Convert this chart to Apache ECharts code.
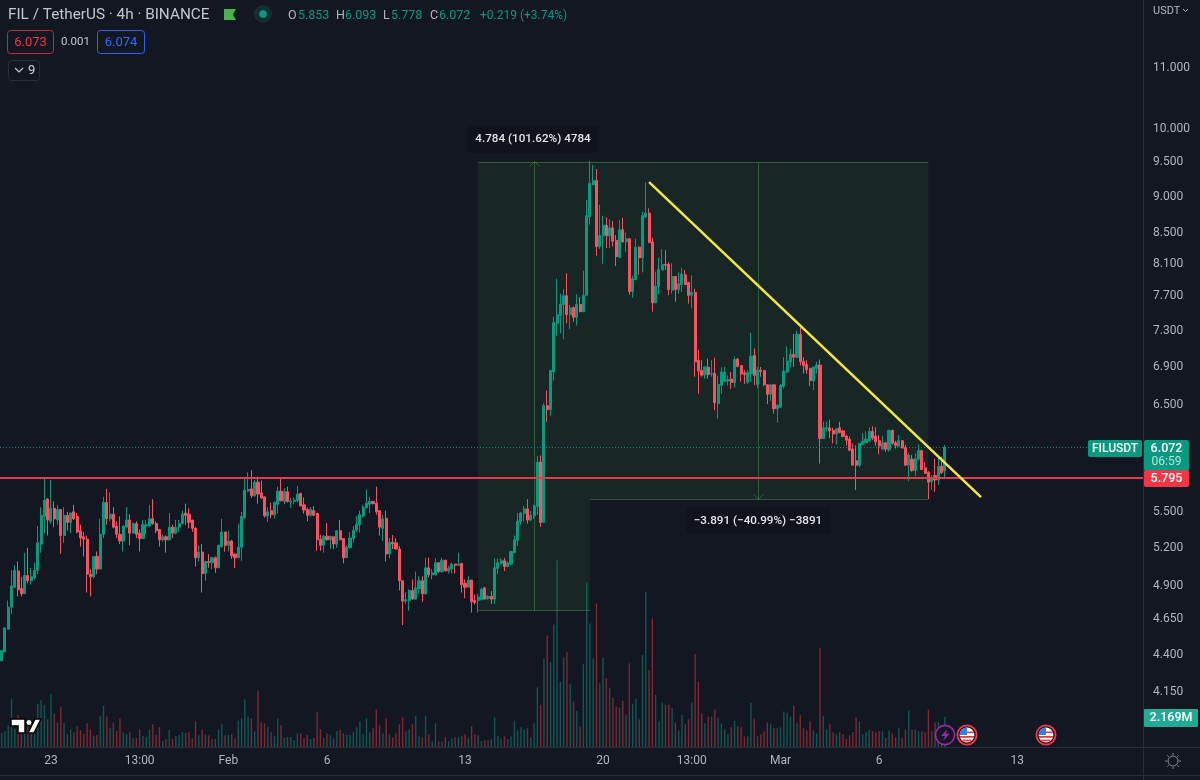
<!DOCTYPE html>
<html><head><meta charset="utf-8"><style>html,body{margin:0;padding:0;background:#131722}#c{width:1200px;height:780px}</style>
<script src="https://cdn.jsdelivr.net/npm/echarts@6/dist/echarts.min.js"></script></head><body><div id="c"></div>
<script>
// candles: [open, close, low, high]
const candlesJan=[
[4.35,4.42,4.35,4.42],[4.41,4.58,4.41,4.58],[4.57,4.73,4.57,4.78],[4.73,4.89,4.68,5.01],[4.88,5.01,4.88,5.05],[5.005,4.86,4.81,5.08],[4.87,4.83,4.81,4.96],[4.83,4.97,4.83,5.15],[4.97,4.93,4.91,5.19],[4.93,4.96,4.90,5.03],
[4.95,5.01,4.94,5.07],[5.01,5.23,4.98,5.37],[5.22,5.46,5.15,5.53],[5.45,5.59,5.31,5.78],[5.60,5.42,5.29,5.61],[5.41,5.52,5.39,5.77],[5.52,5.43,5.36,5.58],[5.42,5.51,5.38,5.55],[5.51,5.29,5.14,5.51],[5.29,5.46,5.23,5.53],
[5.46,5.40,5.33,5.49],[5.40,5.48,5.31,5.48],[5.49,5.43,5.42,5.55],[5.45,5.32,5.31,5.48],[5.33,5.27,5.20,5.38],[5.28,5.26,5.12,5.32],[5.26,4.98,4.84,5.29],[4.98,4.96,4.81,5.02],[4.96,5.12,4.95,5.12],[5.12,5.02,4.98,5.16],
[5.02,5.30,5.02,5.43],[5.30,5.57,5.27,5.62],[5.57,5.43,5.38,5.69],[5.43,5.47,5.41,5.66],[5.47,5.36,5.35,5.53],[5.37,5.30,5.27,5.41],[5.30,5.245,5.22,5.45],[5.245,5.37,5.16,5.37],[5.36,5.42,5.35,5.53],[5.42,5.31,5.21,5.47],
[5.31,5.39,5.31,5.40],[5.39,5.30,5.27,5.41],[5.31,5.265,5.16,5.34],[5.265,5.38,5.265,5.42],[5.37,5.38,5.30,5.42],[5.37,5.43,5.36,5.55],[5.43,5.39,5.38,5.60],[5.39,5.33,5.31,5.41],[5.34,5.255,5.20,5.34],[5.255,5.28,5.24,5.30],
[5.28,5.255,5.15,5.29],[5.255,5.36,5.25,5.48],[5.36,5.31,5.27,5.38],[5.31,5.36,5.30,5.42],[5.36,5.39,5.32,5.42],[5.39,5.47,5.39,5.50],[5.48,5.46,5.38,5.56],[5.47,5.40,5.35,5.52],[5.42,5.35,5.32,5.42],[5.35,5.11,5.04,5.36],
[5.11,5.155,5.08,5.21],[5.155,4.985,4.84,5.22],[4.985,5.08,4.93,5.08],[5.08,5.07,5.03,5.14],[5.07,5.11,5.02,5.115],[5.11,5.03,4.99,5.12],[5.03,5.21,5.03,5.21],[5.20,5.32,5.19,5.43],[5.32,5.21,5.16,5.32],[5.21,5.245,5.16,5.33],
[5.245,5.125,5.10,5.255],[5.14,5.11,5.03,5.14]];
const candlesFebA=[
[5.11,5.195,5.11,5.385],[5.195,5.45,5.085,5.49],[5.44,5.68,5.43,5.785],[5.67,5.685,5.66,5.84],[5.69,5.63,5.61,5.86],[5.63,5.75,5.62,5.77],[5.75,5.645,5.56,5.80],[5.655,5.61,5.60,5.765],[5.62,5.455,5.44,5.62],[5.455,5.49,5.405,5.53],
[5.50,5.465,5.435,5.57],[5.465,5.57,5.43,5.58],[5.555,5.67,5.475,5.71],[5.67,5.585,5.58,5.785],[5.58,5.665,5.555,5.695],[5.665,5.58,5.57,5.71],[5.575,5.585,5.525,5.61],[5.58,5.59,5.555,5.615],[5.585,5.645,5.57,5.715],[5.65,5.54,5.54,5.655],
[5.55,5.505,5.475,5.615],[5.51,5.46,5.41,5.525],[5.46,5.51,5.45,5.53],[5.50,5.46,5.455,5.54],[5.475,5.255,5.165,5.48],[5.26,5.21,5.165,5.295],[5.21,5.285,5.15,5.295],[5.285,5.255,5.25,5.395],[5.255,5.285,5.18,5.285],[5.28,5.22,5.18,5.28],
[5.22,5.33,5.19,5.33],[5.33,5.255,5.25,5.42],[5.265,5.11,5.065,5.27],[5.11,5.195,5.11,5.21],[5.19,5.27,5.19,5.32],[5.265,5.335,5.23,5.37],[5.335,5.385,5.32,5.455],[5.38,5.465,5.315,5.50],[5.455,5.53,5.44,5.55],[5.525,5.565,5.52,5.685],
[5.555,5.58,5.48,5.62],[5.58,5.56,5.555,5.585],[5.565,5.49,5.465,5.71],[5.50,5.36,5.29,5.50],[5.35,5.43,5.245,5.465],[5.435,5.14,5.08,5.50],[5.14,5.235,5.105,5.27],[5.235,5.22,5.18,5.295],[5.23,5.18,5.175,5.27],[5.18,4.93,4.855,5.205],
[4.93,4.775,4.60,4.93],[4.775,4.785,4.755,4.84],[4.78,4.855,4.705,4.865],[4.855,4.79,4.785,4.94],[4.79,4.875,4.785,5.00],[4.87,4.93,4.83,4.965],[4.93,4.83,4.77,4.965],[4.83,5.03,4.825,5.11],[5.03,4.975,4.955,5.11],[4.975,4.99,4.94,5.02],
[4.975,5.07,4.97,5.105],[5.07,5.00,4.99,5.07],[5.00,5.09,4.99,5.11],[5.09,5.005,5.005,5.095],[5.005,5.025,4.985,5.045],[5.02,5.06,4.985,5.07],[5.06,5.05,4.985,5.06],[5.05,5.06,5.045,5.15],[5.065,4.90,4.84,5.07],[4.91,4.88,4.795,4.94],
[4.88,4.935,4.88,4.965],[4.935,4.77,4.69,4.935],[4.78,4.765,4.75,4.825]];
const candlesFebB=[
[4.78,4.805,4.69,4.83],[4.785,4.865,4.78,4.875],[4.875,4.79,4.79,4.88],[4.795,4.81,4.785,4.82],[4.81,4.79,4.755,4.85],[4.79,5.03,4.755,5.105],[5.025,5.07,4.98,5.10],[5.065,5.09,5.055,5.105],[5.085,5.04,5.005,5.11],[5.04,5.07,5.035,5.08],
[5.06,5.16,5.05,5.16],[5.15,5.255,5.145,5.29],[5.25,5.41,5.205,5.48],[5.405,5.48,5.38,5.49],[5.475,5.515,5.41,5.54],[5.515,5.42,5.39,5.60],[5.42,5.46,5.41,5.495],[5.455,5.54,5.43,5.55],[5.535,5.93,5.465,5.99],[5.935,5.40,5.36,5.995],
[5.40,6.48,5.40,6.505],[6.48,6.44,6.32,6.635],[6.44,6.845,6.38,6.85],[6.83,7.38,6.74,7.447],[7.37,7.47,7.23,7.90],[7.46,7.595,7.255,7.72],[7.59,7.695,7.19,7.775],[7.695,7.47,7.37,7.97],[7.47,7.55,7.305,7.585],[7.555,7.44,7.39,7.565],
[7.44,7.59,7.345,7.71],[7.59,7.505,7.50,7.68],[7.505,7.70,7.505,8.00],[7.70,8.72,7.70,8.935],[8.705,9.17,8.60,9.50],[9.15,9.21,9.15,9.44],[9.21,8.31,8.19,9.38],[8.31,8.455,8.28,8.87],[8.45,8.59,8.09,8.72],[8.59,8.45,8.29,8.70],
[8.45,8.555,8.29,8.67],[8.555,8.38,8.31,8.65],[8.39,8.18,8.06,8.46],[8.17,8.53,8.17,8.66],[8.53,8.37,8.36,8.69],[8.37,8.41,8.24,8.495],[8.41,7.745,7.705,8.42],[7.745,7.90,7.67,7.94],[7.89,8.30,7.89,8.41],[8.30,8.165,7.95,8.315],
[8.165,8.72,7.98,8.775],[8.70,8.755,8.70,9.185],[8.755,8.36,8.36,8.82],[8.37,7.61,7.505,8.42],[7.61,7.81,7.61,7.99],[7.805,8.02,7.71,8.165],[8.01,8.08,8.01,8.275],[8.08,8.07,8.01,8.26],[8.08,7.77,7.70,8.11],[7.76,7.93,7.72,8.095],
[7.93,7.77,7.625,7.93],[7.77,7.84,7.72,7.98],[7.83,7.96,7.74,8.04],[7.95,7.83,7.83,8.01],[7.855,7.70,7.60,7.865],[7.70,7.735,7.545,7.945],[7.735,6.94,6.78,7.78]];
const candlesMar=[
[6.957,6.84,6.604,7.07],[6.845,6.795,6.78,6.957],[6.80,6.885,6.76,6.89],[6.88,6.805,6.76,6.975],[6.81,6.815,6.78,6.957],[6.815,6.51,6.434,6.985],[6.50,6.70,6.35,6.79],[6.69,6.83,6.604,6.88],[6.73,6.83,6.725,6.885],[6.735,6.75,6.69,6.795],
[6.755,6.72,6.65,6.83],[6.72,6.965,6.665,7.00],[6.97,6.89,6.88,6.98],[6.90,6.81,6.73,6.90],[6.82,6.805,6.705,6.85],[6.72,6.825,6.705,6.85],[6.81,7.00,6.725,7.26],[7.01,6.795,6.69,7.085],[6.70,6.85,6.66,6.885],[6.85,6.835,6.78,6.885],
[6.845,6.695,6.68,6.85],[6.695,6.597,6.495,6.70],[6.597,6.695,6.53,6.70],[6.695,6.45,6.40,6.70],[6.45,6.485,6.31,6.495],[6.465,6.69,6.46,6.70],[6.68,6.84,6.66,6.99],[6.83,6.945,6.815,7.11],[6.94,7.02,6.88,7.085],[7.02,6.99,6.885,7.25],
[6.99,7.245,6.975,7.285],[7.245,6.94,6.90,7.32],[6.945,6.90,6.815,6.99],[6.91,6.855,6.81,6.957],[6.87,6.74,6.68,6.875],[6.735,6.885,6.64,6.885],[6.87,6.905,6.815,6.94],[6.905,6.155,5.92,6.965],[6.155,6.26,6.155,6.32],[6.25,6.26,6.225,6.32],
[6.26,6.23,6.16,6.34],[6.235,6.20,6.108,6.26],[6.20,6.25,6.10,6.26],[6.26,6.215,6.205,6.32],[6.23,6.175,6.17,6.24],[6.18,6.14,6.09,6.19],[6.15,6.045,6.035,6.175],[6.055,5.905,5.905,6.108],[5.945,5.905,5.68,6.09],[5.905,6.108,5.885,6.108],
[6.10,6.13,6.10,6.21],[6.115,6.15,6.11,6.225],[6.135,6.225,6.125,6.265],[6.225,6.16,6.14,6.275],[6.18,6.125,6.085,6.265],[6.135,6.085,6.005,6.19],[6.055,6.115,6.05,6.18],[6.115,6.055,6.03,6.125],[6.05,6.235,6.03,6.24],[6.235,6.11,6.10,6.24],
[6.115,6.09,6.06,6.135],[6.08,6.135,6.08,6.19],[6.135,6.065,6.065,6.14],[6.07,5.905,5.90,6.095],[5.905,6.00,5.76,6.015],[5.96,5.855,5.845,6.00],[5.855,5.965,5.805,6.015],[5.96,6.04,5.95,6.10],[6.04,5.865,5.86,6.05],[5.88,5.83,5.825,5.935],
[5.84,5.75,5.60,5.85],[5.755,5.785,5.68,5.815],[5.81,5.77,5.665,5.965],[5.77,5.895,5.725,5.985],[5.895,5.835,5.825,5.985],[5.853,6.072,5.778,6.093]];
// volume in millions
const volumesA=[1.0,1.13,1.56,3.45,1.32,2.29,1.46,1.82,1.46,1.23,1.46,3.07,3.35,3.00,1.98,3.78,2.38,1.75,2.88,1.70,.94,1.27,1.06,1.51,1.20,.94,1.70,1.27,.80,.87,2.24,2.95,2.19,1.35,1.77,1.16,2.05,1.06,.94,1.06,.64,.66,1.27,.80,.73,1.27,1.63,.87,1.42,.45,.59,1.23,.59,.80,.87,1.06,1.01,1.09,.64,1.84,.85,1.27,.90,.85,.59,.59,1.27,1.63,.85,.87,.92,.64];
const volumesB=[1.89,2.05,3.40,2.17,2.05,1.13,4.01,1.77,1.70,1.46,1.06,.80,2.05,1.56,.66,.73,.73,.52,.99,.99,.66,.87,.59,.66,2.48,1.30,.66,.99,.85,.64,1.13,1.23,.99,.87,.87,1.06,1.42,1.84,.94,2.05,1.06,1.35,2.69,1.56,.99,2.05,.92,.71,.99,1.63,2.12,1.13,1.27,1.63,2.24,.78,.71,2.24,.92,.42,1.70,.42,.42,.71,.42,.64,.71,.73,.78,.92,.64,1.49,.92,.85];
const volumesC=[.45,.52,.52,.57,2.12,.78,.59,.78,.59,.78,1.89,1.20,1.42,1.27,1.35,.71,1.70,4.25,3.02,6.30,7.93,6.04,8.71,13.26,4.63,6.37,6.75,4.48,3.23,2.60,1.46,5.90,11.66,8.78,6.30,10.20,4.55,6.37,4.91,4.20,3.52,2.88,2.81,3.30,2.31,5.95,3.09,3.45,1.98,6.54,11.02,5.48,9.13,3.71,1.89,3.16,3.02,3.02,2.81,1.77,1.20,2.31,1.63,1.98,3.16,6.61,4.63,2.38,1.70,2.17,2.17,2.67,2.10,1.70,1.27,.92,1.42,1.89,1.49,1.42,.78,.78,3.16,2.03,.78,.92,1.13,1.77,1.63,1.35,1.35,1.42,2.53,2.45,2.17,2.95,1.70,2.27,1.35,1.20,1.84,1.20,.99,7.03,2.24,1.27,1.63,1.06,.92,1.06,.92,.59,.85,1.06,2.12,1.82,.92,1.06,1.27,1.13,1.06,1.13,1.13,.66,1.20,.99,.71,1.35,.66,1.27,2.60,1.27,1.27,1.13,1.13,1.06,2.67,1.13,1.77,1.82,1.23,2.169];
const tickIndex=[15,42,69,99,141,183,210,237,267,309];
const tickNames=['23','13:00','Feb','6','13','20','13:00','Mar','6','13'];
const priceTicks=[11,10,9.5,9,8.5,8.1,7.7,7.3,6.9,6.5,5.5,5.2,4.9,4.65,4.4,4.15,3.95];
const lastPrice=6.072, horizontalLevel=5.795;
const trendStart=[197,9.19], trendEnd=[298,5.617];
// from, to, top, bottom, centre, direction
const rangeA=[145,179,9.49,4.706,162,1], rangeB=[179,282,9.49,5.599,230,-1];

const candles=candlesJan.concat(candlesFebA,candlesFebB,candlesMar);
const volumes=volumesA.concat(volumesB,volumesC);
const BG='#131722',UP='#089981',DOWN='#f7525f',TXT='#b2b5be',SEP='#2a2e39';
const categories=new Array(348).fill('');
tickIndex.forEach((k,i)=>categories[k]=tickNames[i]);
const FONT='Roboto, "Noto Sans", sans-serif';
const gridBase={left:-1,right:56.3};
const chart=echarts.init(document.getElementById('c'),null,{width:1200,height:780});

function t(x,y,text,fill,size,extra){const e=extra||{};return {type:'text',x,y:y+0.8,z:50,silent:true,style:{text,fill,font:(e.fontWeight||'normal')+' '+(size||13)+'px '+FONT,verticalAlign:'middle',textAlign:e.textAlign||'left'}};}
function box(x,y,w,h,stroke,fill,r,lw){return {type:'rect',z:49,silent:true,shape:{x,y,width:w,height:h,r:r||0},style:{fill:fill||'none',stroke:stroke||'none',lineWidth:lw||1}};}
function poly(points,fill,stroke,lw){return {type:'polygon',z:50,silent:true,shape:{points},style:{fill:fill,stroke:stroke||'none',lineWidth:lw||1}};}
function pline(points,stroke,lw){return {type:'polyline',z:50,silent:true,shape:{points},style:{fill:'none',stroke,lineWidth:lw||1}};}
function seg(x1,y1,x2,y2,stroke,z){return {type:'line',z:z||50,silent:true,shape:{x1,y1,x2,y2},style:{stroke,lineWidth:1}};}
function flag(cx){const cy=735;return [
 {type:'circle',z:49,silent:true,shape:{cx,cy,r:9.6},style:{fill:BG,stroke:'#f23645',lineWidth:1.8}},
 {type:'circle',z:49,silent:true,shape:{cx,cy,r:7.4},style:{fill:'#ffffff'}},
 {type:'sector',z:50,silent:true,shape:{cx,cy,r:7.4,startAngle:Math.PI,endAngle:1.5*Math.PI},style:{fill:'#2f80ed'}},
 {type:'rect',z:50,silent:true,shape:{x:cx,y:cy-3.5,width:7,height:1.6},style:{fill:'#f23645'}},
 {type:'rect',z:50,silent:true,shape:{x:cx-7,y:cy+1,width:14,height:1.8},style:{fill:'#f23645'}},
 {type:'rect',z:50,silent:true,shape:{x:cx-4.6,y:cy+4.6,width:9.2,height:1.8},style:{fill:'#f23645'}}];}

const graphics=[
 t(8,14.5,'FIL / TetherUS · 4h · BINANCE','#c3c6ce',15.3),
 poly([[224,9],[236,9],[233,14.5],[236,20],[224,20]],'#4caf50'),
 {type:'circle',z:49,silent:true,shape:{cx:263,cy:14,r:9},style:{fill:'#13302f'}},
 {type:'circle',z:50,silent:true,shape:{cx:263,cy:14,r:3.8},style:{fill:'#089981'}},
 t(288,15,'O',TXT,12.5),t(298,15,'5.853',UP,12.5),t(336,15,'H',TXT,12.5),t(345,15,'6.093',UP,12.5),t(383,15,'L',TXT,12.5),t(391,15,'5.778',UP,12.5),t(430,15,'C',TXT,12.5),t(439,15,'6.072',UP,12.5),t(480,15,'+0.219 (+3.74%)',UP,12),
 box(7.5,30.5,46,23,'#c9263a',BG,3),t(30.5,42,'6.073','#f23645',13,{textAlign:'center'}),
 t(75.5,41.5,'0.001','#c3c6ce',11.5,{textAlign:'center'}),
 box(97.5,30.5,47,23,'#2962ff',BG,3),t(121,42,'6.074','#2f6bff',13,{textAlign:'center'}),
 box(8.5,60.5,31,20,SEP,BG,3),
 pline([[15,68],[19,72],[23,68]],'#c3c6ce',1.2),
 t(28,69.5,'9','#d1d4dc',13),
 box(467,126,132,27,null,'#10131c',4),t(533,138.5,'4.784 (101.62%) 4784','#e4e6ec',11.7,{textAlign:'center',fontWeight:'500'}),
 box(686,507,144,27,null,'#10131c',4),t(758,520,'\u22123.891 (\u221240.99%) \u22123891','#e4e6ec',11.7,{textAlign:'center',fontWeight:'500'}),
 t(1153,10,'USDT',TXT,11),
 pline([[1183,9],[1185.5,11.5],[1188,9]],TXT,1),
 seg(0,775.5,1200,775.5,SEP,40),seg(0,747.5,1200,747.5,SEP,40),seg(1143.5,0,1143.5,780,SEP,40),
 box(1088,440,54,17,null,UP,2),t(1115,448.5,'FILUSDT','#ffffff',12,{textAlign:'center',fontWeight:'500'}),
 box(1144,440,45,31,null,UP,2),t(1166.5,448.5,'6.072','#ffffff',12.5,{textAlign:'center',fontWeight:'500'}),t(1166.5,461.5,'06:59','#b7e3da',12,{textAlign:'center'}),
 box(1144,470,45,17,null,'#f23645',2),t(1166.5,478,'5.795','#ffffff',12.5,{textAlign:'center',fontWeight:'500'}),
 box(1144,709,54,18,null,'#22ab94',1),t(1171,717.5,'2.169M','#ffffff',12.5,{textAlign:'center',fontWeight:'500'}),
 {type:'circle',z:50,silent:true,shape:{cx:1173,cy:761,r:5},style:{fill:'none',stroke:'#868993',lineWidth:1}},
 seg(1173,753,1173,755,'#868993'),seg(1173,767,1173,769,'#868993'),seg(1165,761,1167,761,'#868993'),seg(1179,761,1181,761,'#868993'),
 seg(1167.3,755.3,1168.8,756.8,'#868993'),seg(1177.2,765.2,1178.7,766.7,'#868993'),seg(1167.3,766.7,1168.8,765.2,'#868993'),seg(1177.2,756.8,1178.7,755.3,'#868993'),
 poly([[11,719],[25,719],[25,733],[18,733],[18,726],[11,726]],'#ffffff','#000000',1.5),
 poly([[28,733],[35,719],[41,719],[34,733]],'#ffffff','#000000',1.5),
 {type:'circle',z:50,silent:true,shape:{cx:29,cy:722.5,r:3},style:{fill:'#ffffff',stroke:'#000000',lineWidth:1}},
 {type:'circle',z:49,silent:true,shape:{cx:945,cy:735,r:9.6},style:{fill:BG,stroke:'#9c27b0',lineWidth:1.6}},
 poly([[947.5,729],[941,736],[945,736],[943,741],[949.5,733.8],[945.6,733.8]],'#9c27b0'),
 ...flag(967),...flag(1046)
];

chart.setOption({
 animation:false,backgroundColor:BG,
 textStyle:{fontFamily:FONT},
 grid:[Object.assign({top:0,height:747.3},gridBase),Object.assign({top:540,height:207.3},gridBase)],
 xAxis:[
  {type:'category',gridIndex:0,data:categories,boundaryGap:true,axisLine:{show:false},axisTick:{show:false},splitLine:{show:false},
   axisLabel:{color:TXT,fontSize:12,fontFamily:FONT,margin:8,interval:(i,v)=>v!=='',hideOverlap:false}},
  {type:'category',gridIndex:1,data:categories,boundaryGap:true,show:false}],
 yAxis:[
  {type:'log',logBase:Math.E,gridIndex:0,min:3.8,max:12.214,position:'right',axisLine:{show:false},axisTick:{show:false},axisLabel:{show:false},splitLine:{show:false},minorSplitLine:{show:false}},
  {type:'value',gridIndex:1,min:0,max:14.7,show:false,splitLine:{show:false}}],
 series:[
  {type:'custom',name:'Price range',xAxisIndex:0,yAxisIndex:0,z:1,silent:true,clip:false,encode:{x:[0,1,4],y:[2,3]},data:[rangeA,rangeB],
   renderItem:(p,api)=>{
    const a=api.coord([api.value(0),api.value(2)]),b=api.coord([api.value(1),api.value(3)]);
    const cx=api.coord([api.value(4),api.value(2)])[0],dir=api.value(5);
    const tipY=dir>0?a[1]:b[1],ln='rgba(76,175,80,0.42)';
    const line=(x1,y1,x2,y2)=>({type:'line',shape:{x1,y1,x2,y2},style:{stroke:ln,lineWidth:1,fill:'none'}});
    const yT=Math.round(a[1])+.5,yB=Math.round(b[1])+.5,xc=Math.round(cx)+.5;
    return {type:'group',children:[
     {type:'rect',shape:{x:a[0],y:a[1],width:b[0]-a[0],height:b[1]-a[1]},style:{fill:'rgba(76,175,80,0.1)'}},
     line(a[0],yT,b[0],yT),line(a[0],yB,b[0],yB),line(xc,yT,xc,yB),
     line(xc-5,tipY+dir*5,xc,tipY),line(xc+5,tipY+dir*5,xc,tipY)]};
   }},
  {type:'bar',name:'Volume',xAxisIndex:1,yAxisIndex:1,z:2,barWidth:1.4,silent:true,large:false,
   data:volumes.map((v,i)=>({value:v,itemStyle:{color:candles[i][1]>=candles[i][0]?'rgba(8,153,129,0.5)':'rgba(242,54,69,0.5)'}}))},
  {type:'candlestick',name:'FILUSDT',xAxisIndex:0,yAxisIndex:0,z:3,barWidth:2.6,large:false,progressive:0,silent:true,data:candles,
   itemStyle:{color:UP,color0:DOWN,borderColor:UP,borderColor0:DOWN,borderWidth:1},
   markLine:{silent:true,symbol:'none',animation:false,z:6,label:{show:false},data:[
    {yAxis:lastPrice,lineStyle:{color:'rgba(8,153,129,0.85)',type:[1,2],width:1}},
    {yAxis:horizontalLevel,lineStyle:{color:'#f23645',type:'solid',width:2}},
    [{coord:trendStart,lineStyle:{color:'#f7e83c',type:'solid',width:2.5}},{coord:trendEnd}]
   ]}},
  {type:'custom',name:'Price scale',xAxisIndex:0,yAxisIndex:0,z:4,silent:true,clip:false,encode:{y:1},data:priceTicks.map(v=>[0,v]),
   renderItem:(p,api)=>{
    const pos=api.coord([0,api.value(1)]);
    return {type:'text',style:{x:1153,y:pos[1]+1.2,text:api.value(1).toFixed(3),fill:TXT,font:'12px '+FONT,textAlign:'left',verticalAlign:'middle'}};
   }}
 ],
 graphic:graphics
});
</script></body></html>
